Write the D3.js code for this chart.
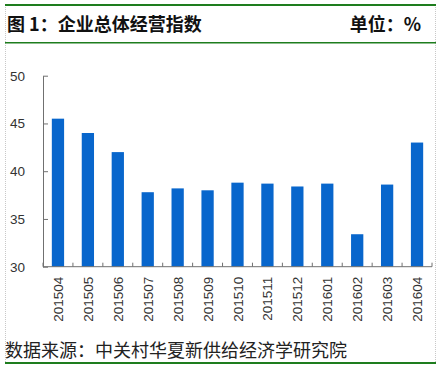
<!DOCTYPE html>
<html><head><meta charset="utf-8">
<script src="https://cdn.jsdelivr.net/npm/d3@7"></script>
<style>body{margin:0;background:#fff}svg{display:block}</style>
</head><body>
<script>
const categories = ["201504","201505","201506","201507","201508","201509","201510","201511","201512","201601","201602","201603","201604"];
const values = [45.5,44.0,42.0,37.8,38.2,38.0,38.8,38.7,38.4,38.7,33.4,38.6,43.0];
const yTicks = [30,35,40,45,50];
const title = "图 1：企业总体经营指数";
const unit = "单位：%";
const source = "数据来源：中关村华夏新供给经济学研究院";

const W = 441, H = 368;
const svg = d3.select("body").append("svg").attr("width", W).attr("height", H);

// frame
svg.append("line").attr("x1",5.5).attr("x2",5.5).attr("y1",5).attr("y2",363)
  .attr("stroke","#c8c8c8").attr("stroke-dasharray","1,1");
svg.append("line").attr("x1",435.5).attr("x2",435.5).attr("y1",5).attr("y2",363)
  .attr("stroke","#c8c8c8").attr("stroke-dasharray","1,1");
svg.append("rect").attr("x",5).attr("y",4).attr("width",431).attr("height",2).attr("fill","#1e7d1e");
svg.append("rect").attr("x",5).attr("y",42).attr("width",431).attr("height",1.5).attr("fill","#1e7d1e");
svg.append("rect").attr("x",5).attr("y",362).attr("width",431).attr("height",2).attr("fill","#1e7d1e");

const cjk = "'Noto Sans CJK SC', sans-serif";
svg.append("text").attr("x",7).attr("y",31).text(title)
  .attr("font-family",cjk).attr("font-weight","bold").attr("font-size",18).attr("fill","#111");
svg.append("text").attr("x",421).attr("y",31).attr("text-anchor","end").text(unit)
  .attr("font-family",cjk).attr("font-weight","bold").attr("font-size",18).attr("fill","#111");
svg.append("text").attr("x",5).attr("y",357).text(source)
  .attr("font-family",cjk).attr("font-size",18).attr("fill","#222");

const x0 = 43, x1 = 432, yTop = 75.7, yBot = 266.7;
const x = d3.scaleBand().domain(categories).range([x0, x1]).paddingInner(0.59).paddingOuter(0.295);
const y = d3.scaleLinear().domain([30,50]).range([yBot, yTop]);

svg.append("g").selectAll("rect").data(values).join("rect")
  .attr("x",(d,i)=>x(categories[i])).attr("width",x.bandwidth())
  .attr("y",d=>y(d)).attr("height",d=>yBot-y(d)).attr("fill","#0866cc");

const font = "'Liberation Sans', Arial, sans-serif";
// y axis
const ya = svg.append("g").attr("transform",`translate(${x0},0)`)
  .call(d3.axisLeft(y).tickValues(yTicks).tickSizeInner(-5).tickSizeOuter(0).tickPadding(18));
ya.select(".domain").attr("stroke","#707070");
ya.selectAll(".tick line").attr("stroke","#707070");
ya.selectAll("text").attr("font-family",font).attr("font-size",13.5).attr("fill","#333");

// x axis with boundary ticks
const xa = svg.append("g").attr("transform",`translate(0,${yBot})`);
xa.append("line").attr("x1",x0).attr("x2",x1).attr("stroke","#707070");
const step = x.step();
const bounds = d3.range(categories.length+1).map(i=>x0+i*step);
xa.selectAll("line.b").data(bounds).join("line").attr("class","b")
  .attr("x1",d=>d).attr("x2",d=>d).attr("y1",0).attr("y2",-4).attr("stroke","#707070");
xa.selectAll("text").data(categories).join("text")
  .attr("transform",d=>`translate(${x(d)+x.bandwidth()/2+5},10) rotate(-90)`)
  .attr("text-anchor","end").text(d=>d)
  .attr("font-family",font).attr("font-size",13.5).attr("fill","#333");
</script>
</body></html>
